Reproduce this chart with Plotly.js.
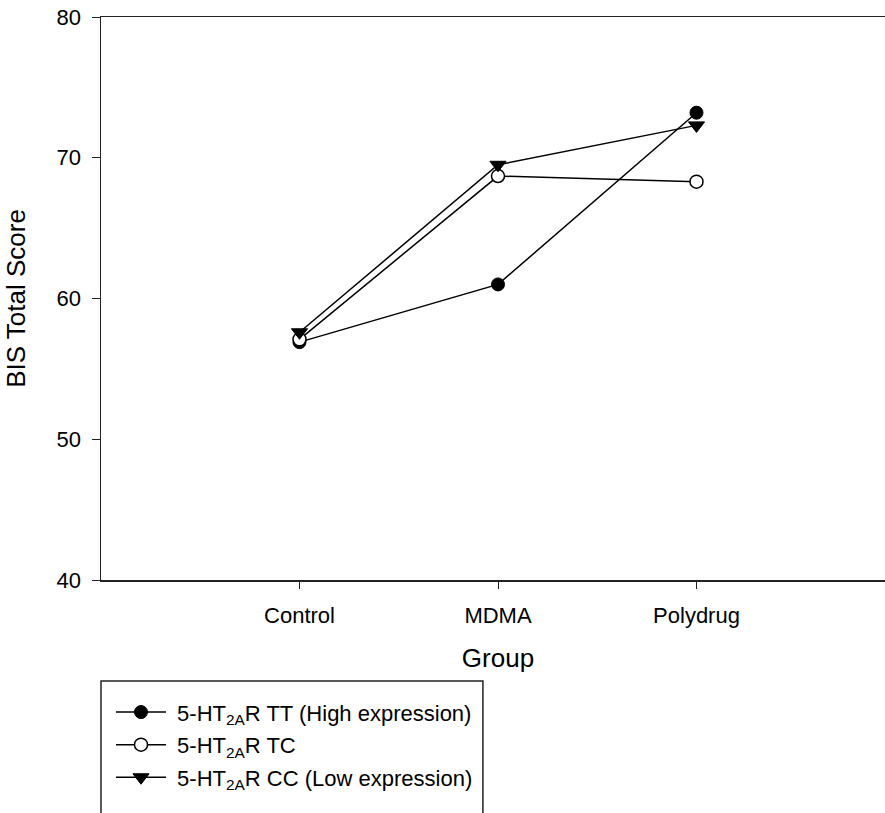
<!DOCTYPE html>
<html>
<head>
<meta charset="utf-8">
<script src="https://cdn.plot.ly/plotly-3.0.1.min.js"></script>
<style>
  html, body { margin: 0; padding: 0; background: #fff; overflow: hidden; }
  #chart { width: 895px; height: 813px; }
</style>
</head>
<body>
<div id="chart"></div>
<script>
// Mean BIS total score by drug-use group and 5-HT2A receptor genotype
const groups = ['Control', 'MDMA', 'Polydrug'];
const scoreTT = [56.9, 61.0, 73.2];
const scoreTC = [57.1, 68.7, 68.3];
const scoreCC = [57.6, 69.5, 72.3];

// non-breaking space keeps a small gap between legend symbol and text
const seriesNames = [
  '\u00A05-HT<sub>2A</sub>R TT (High expression)',
  '\u00A05-HT<sub>2A</sub>R TC',
  '\u00A05-HT<sub>2A</sub>R CC (Low expression)'
];

const FONT = 'Liberation Sans, Arial, sans-serif';
const lineStyle = { color: '#000', width: 1.5 };

const traces = [
  {
    x: groups, y: scoreTT, name: seriesNames[0], legendgroup: 'tt',
    type: 'scatter', mode: 'lines+markers', line: lineStyle,
    marker: { symbol: 'circle', size: 13, color: '#000', line: { color: '#000', width: 1 } }
  },
  {
    x: groups, y: scoreTC, name: seriesNames[1], legendgroup: 'tc',
    type: 'scatter', mode: 'lines+markers', line: lineStyle,
    marker: { symbol: 'circle', size: 13, color: '#fff', line: { color: '#000', width: 1.5 } }
  },
  {
    x: groups, y: scoreCC, name: seriesNames[2], legendgroup: 'cc',
    type: 'scatter', mode: 'lines+markers', line: lineStyle,
    marker: { symbol: 'triangle-down', size: 14, color: '#000', line: { color: '#000', width: 1 } }
  }
];

const layout = {
  width: 895,
  height: 813,
  margin: { l: 101, r: 0, t: 17, b: 233 },
  paper_bgcolor: '#fff',
  plot_bgcolor: '#fff',
  font: { family: FONT, color: '#000', size: 22 },
  showlegend: true,
  xaxis: {
    type: 'category',
    range: [-1, 3],
    showgrid: false,
    zeroline: false,
    showline: true,
    mirror: true,
    linecolor: '#222',
    linewidth: 1.5,
    ticks: 'outside',
    ticklen: 7,
    tickwidth: 1,
    tickcolor: '#222',
    ticklabelstandoff: 8,
    tickfont: { family: FONT, size: 22, color: '#000' },
    title: { text: 'Group', font: { family: FONT, size: 26, color: '#000' }, standoff: 22 }
  },
  yaxis: {
    range: [40, 80],
    dtick: 10,
    showgrid: false,
    zeroline: false,
    showline: true,
    linecolor: '#222',
    linewidth: 1.5,
    ticks: 'outside',
    ticklen: 8,
    tickwidth: 1,
    tickcolor: '#222',
    ticklabelstandoff: 6,
    tickfont: { family: FONT, size: 22, color: '#000' },
    title: { text: 'BIS Total Score', font: { family: FONT, size: 26, color: '#000' }, standoff: 23 }
  },
  legend: {
    x: 0.0126,
    xanchor: 'left',
    y: -0.1976,
    yanchor: 'top',
    bgcolor: 'rgba(0,0,0,0)',
    borderwidth: 0,
    itemwidth: 50,
    tracegroupgap: 1,
    font: { family: FONT, size: 22, color: '#000' }
  },
  shapes: [
    {
      type: 'rect', xref: 'paper', yref: 'paper',
      x0: 0, x1: 0.481, y0: -0.1794, y1: -0.6,
      line: { color: '#222', width: 1.5 }, fillcolor: 'rgba(0,0,0,0)'
    }
  ]
};

Plotly.newPlot('chart', traces, layout, { displayModeBar: false, staticPlot: true });
</script>
</body>
</html>
